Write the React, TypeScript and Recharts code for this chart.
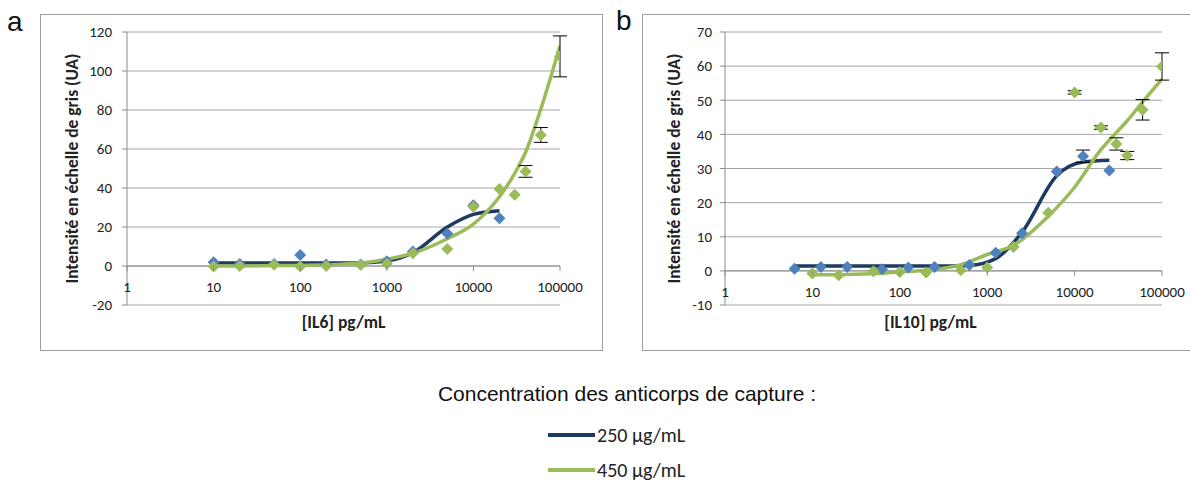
import React from 'react';
import { ComposedChart, Line, Scatter, XAxis, YAxis, CartesianGrid, ReferenceLine, ErrorBar } from 'recharts';

const NAVY = '#1F3A60';
const BLUE = '#4F81BD';
const GREEN = '#9BBB59';
const GRID = '#A6A6A6';
const AXIS = '#8C8C8C';
const TICK_FONT = 'Carlito, Calibri, Lato, sans-serif';

const X_TICKS = [1, 10, 100, 1000, 10000, 100000];
const Y_TITLE = 'Intensité en échelle de gris (UA)';

// panel a : IL6
const IL6_Y_TICKS = [-20, 0, 20, 40, 60, 80, 100, 120];
const IL6_CONC_250 = [10, 20, 50, 100, 200, 500, 1000, 2000, 5000, 10000, 20000];
const IL6_PTS_250 = [1.9, 1.0, 1.0, 5.6, 0.8, 0.8, 2.4, 7.5, 16.7, 31.2, 24.5];
const IL6_FIT_250 = [1.5, 1.5, 1.5, 1.5, 1.5, 1.6, 2.5, 6.8, 20.0, 26.5, 28.3];
const IL6_CONC_450 = [10, 20, 50, 100, 200, 500, 1000, 2000, 5000, 10000, 20000, 30000, 40000, 60000, 100000];
const IL6_PTS_450 = [-0.2, 0, 0.7, -0.2, 0, 0.7, 1.2, 6.6, 8.7, 30.4, 39.5, 36.6, 48.5, 67.2, 107.5];
const IL6_ERR_450 = [null, null, null, null, null, null, null, null, null, null, null, null, 3.0, 3.8, 10.5];
const IL6_FIT_450 = [0, 0, 0.2, 0.3, 0.6, 1.5, 3.5, 6.6, 14.0, 21.5, 35.5, 47.5, 58.3, 80.5, 113];

// panel b : IL10
const IL10_Y_TICKS = [-10, 0, 10, 20, 30, 40, 50, 60, 70];
const IL10_CONC_250 = [6.25, 12.5, 25, 62.5, 125, 250, 625, 1250, 2500, 6250, 12500, 25000];
const IL10_PTS_250 = [0.6, 1.1, 1.1, 0.5, 1.0, 1.1, 1.7, 5.3, 11.0, 29.1, 33.6, 29.4];
const IL10_ERR_250 = [null, null, null, null, null, null, null, null, null, null, 1.8, null];
const IL10_FIT_250 = [1.4, 1.4, 1.4, 1.4, 1.4, 1.4, 1.6, 3.6, 11.3, 27.9, 31.9, 32.4];
const IL10_CONC_450 = [10, 20, 50, 100, 200, 500, 1000, 2000, 5000, 10000, 20000, 30000, 40000, 60000, 100000];
const IL10_PTS_450 = [-0.8, -1.3, -0.1, -0.3, -0.5, 0.2, 1.0, 7.0, 17.0, 52.3, 42.0, 37.2, 33.8, 47.2, 59.9];
const IL10_ERR_450 = [null, null, null, null, null, null, null, null, null, 0.5, 0.5, 1.8, 1.2, 3.0, 4.0];
const IL10_FIT_450 = [-1.1, -1.1, -0.8, -0.3, 0.2, 1.8, 4.8, 7.5, 16.0, 24.5, 35.5, 40.5, 44.0, 49.5, 56.2];

const toPts = (xs: number[], ys: number[], errs?: (number | null)[]) =>
  xs.map((x, i) => ({ x, y: ys[i], err: errs ? errs[i] : null }));

const PANEL_TOP = 14;
const PANEL_H = 337;
const PLOT_TOP = 18;
const X_AXIS_H = 46;
const PLOT_H = PANEL_H - PLOT_TOP - X_AXIS_H;

function Diamond(props: any) {
  const { cx, cy, fill } = props;
  const r = 6;
  return <polygon points={`${cx},${cy - r} ${cx + r},${cy} ${cx},${cy + r} ${cx - r},${cy}`} fill={fill} />;
}

function makeXTick(zeroPx: number) {
  return (props: any) => {
    const { x, y, payload } = props;
    const y0 = y - zeroPx;
    return (
      <g>
        <line x1={x} x2={x} y1={y0} y2={y0 + 5} stroke={AXIS} />
        <text x={x} y={y0 + 21} textAnchor='middle' dominantBaseline='central' fontSize={15} fontFamily={TICK_FONT} fill='#222'>
          {payload.value}
        </text>
      </g>
    );
  };
}

type PanelProps = {
  left: number; width: number; yAxisWidth: number; marginRight: number;
  yTicks: number[]; xTitle: string; xTitleDx: number; tickMargin: number;
  pts250: any[]; fit250: any[]; pts450: any[]; fit450: any[];
};

const titleStyle = { fontFamily: TICK_FONT, fontWeight: 'bold', fontSize: 17.5, fill: '#222' };

function Panel(p: PanelProps) {
  const yMin = p.yTicks[0];
  const yMax = p.yTicks[p.yTicks.length - 1];
  const zeroPx = (PLOT_H * (0 - yMin)) / (yMax - yMin);
  return (
    <div style={{ position: 'absolute', left: p.left, top: PANEL_TOP, width: p.width, height: PANEL_H }}>
      <div style={{ position: 'absolute', left: 0, top: 0, width: p.width - 2, height: PANEL_H - 2, border: '1px solid #A0A0A0' }} />
      <ComposedChart width={p.width} height={PANEL_H} margin={{ top: PLOT_TOP, right: p.marginRight, bottom: 0, left: 0 }}>
        <CartesianGrid vertical={false} stroke={GRID} />
        <XAxis
          dataKey='x' type='number' scale='log' domain={[1, 100000]} ticks={X_TICKS} allowDataOverflow
          height={X_AXIS_H} axisLine={false} tickLine={false} tickSize={0} tickMargin={0} interval={0}
          tick={makeXTick(zeroPx)}
          label={{ value: p.xTitle, position: 'insideBottom', offset: 23, dx: p.xTitleDx, style: titleStyle }}
        />
        <YAxis
          dataKey='y' type='number' domain={[yMin, yMax]} ticks={p.yTicks} interval={0} width={p.yAxisWidth}
          axisLine={{ stroke: AXIS }} tickLine={{ stroke: AXIS }} tickSize={5} tickMargin={p.tickMargin}
          tick={{ fontSize: 15, fontFamily: TICK_FONT, fill: '#222' }}
          label={{ value: Y_TITLE, angle: -90, position: 'insideLeft', offset: 32, style: { ...titleStyle, textAnchor: 'middle' } }}
        />
        <ReferenceLine y={0} stroke={AXIS} />
        <Line data={p.fit250} dataKey='y' type='monotone' stroke={NAVY} strokeWidth={3.5} dot={false} isAnimationActive={false} />
        <Line data={p.fit450} dataKey='y' type='monotone' stroke={GREEN} strokeWidth={3.5} dot={false} isAnimationActive={false} />
        <Scatter data={p.pts250} dataKey='y' fill={BLUE} shape={Diamond} isAnimationActive={false}>
          <ErrorBar dataKey='err' direction='y' width={7} stroke='#000' strokeWidth={1} />
        </Scatter>
        <Scatter data={p.pts450} dataKey='y' fill={GREEN} shape={Diamond} isAnimationActive={false}>
          <ErrorBar dataKey='err' direction='y' width={7} stroke='#000' strokeWidth={1} />
        </Scatter>
      </ComposedChart>
    </div>
  );
}

export default function App() {
  return (
    <div style={{ position: 'absolute', left: 0, top: 0, width: 1190, height: 483, background: '#fff', overflow: 'hidden' }}>
      <div style={{ position: 'absolute', left: 7, top: 6, fontFamily: 'Liberation Sans, Arial, sans-serif', fontSize: 28, color: '#111' }}>a</div>
      <div style={{ position: 'absolute', left: 616, top: 5, fontFamily: 'Liberation Sans, Arial, sans-serif', fontSize: 28, color: '#111' }}>b</div>
      <Panel
        left={40} width={563} yAxisWidth={87} marginRight={43} yTicks={IL6_Y_TICKS}
        xTitle='[IL6] pg/mL' xTitleDx={0} tickMargin={10}
        pts250={toPts(IL6_CONC_250, IL6_PTS_250)} fit250={toPts(IL6_CONC_250, IL6_FIT_250)}
        pts450={toPts(IL6_CONC_450, IL6_PTS_450, IL6_ERR_450)} fit450={toPts(IL6_CONC_450, IL6_FIT_450)}
      />
      <Panel
        left={642} width={549} yAxisWidth={83} marginRight={29} yTicks={IL10_Y_TICKS}
        xTitle='[IL10] pg/mL' xTitleDx={-13} tickMargin={8}
        pts250={toPts(IL10_CONC_250, IL10_PTS_250, IL10_ERR_250)} fit250={toPts(IL10_CONC_250, IL10_FIT_250)}
        pts450={toPts(IL10_CONC_450, IL10_PTS_450, IL10_ERR_450)} fit450={toPts(IL10_CONC_450, IL10_FIT_450)}
      />
      <div style={{ position: 'absolute', left: 627, top: 382, transform: 'translateX(-50%)', whiteSpace: 'nowrap', fontFamily: 'Liberation Sans, Arial, sans-serif', fontSize: 21, color: '#111' }}>
        Concentration des anticorps de capture :
      </div>
      <div style={{ position: 'absolute', left: 548, top: 433, width: 47, height: 4, background: NAVY }} />
      <div style={{ position: 'absolute', left: 597, top: 425, lineHeight: '20px', fontFamily: TICK_FONT, fontSize: 20, color: '#222' }}>250 µg/mL</div>
      <div style={{ position: 'absolute', left: 548, top: 468, width: 47, height: 4, background: GREEN }} />
      <div style={{ position: 'absolute', left: 597, top: 460, lineHeight: '20px', fontFamily: TICK_FONT, fontSize: 20, color: '#222' }}>450 µg/mL</div>
    </div>
  );
}
